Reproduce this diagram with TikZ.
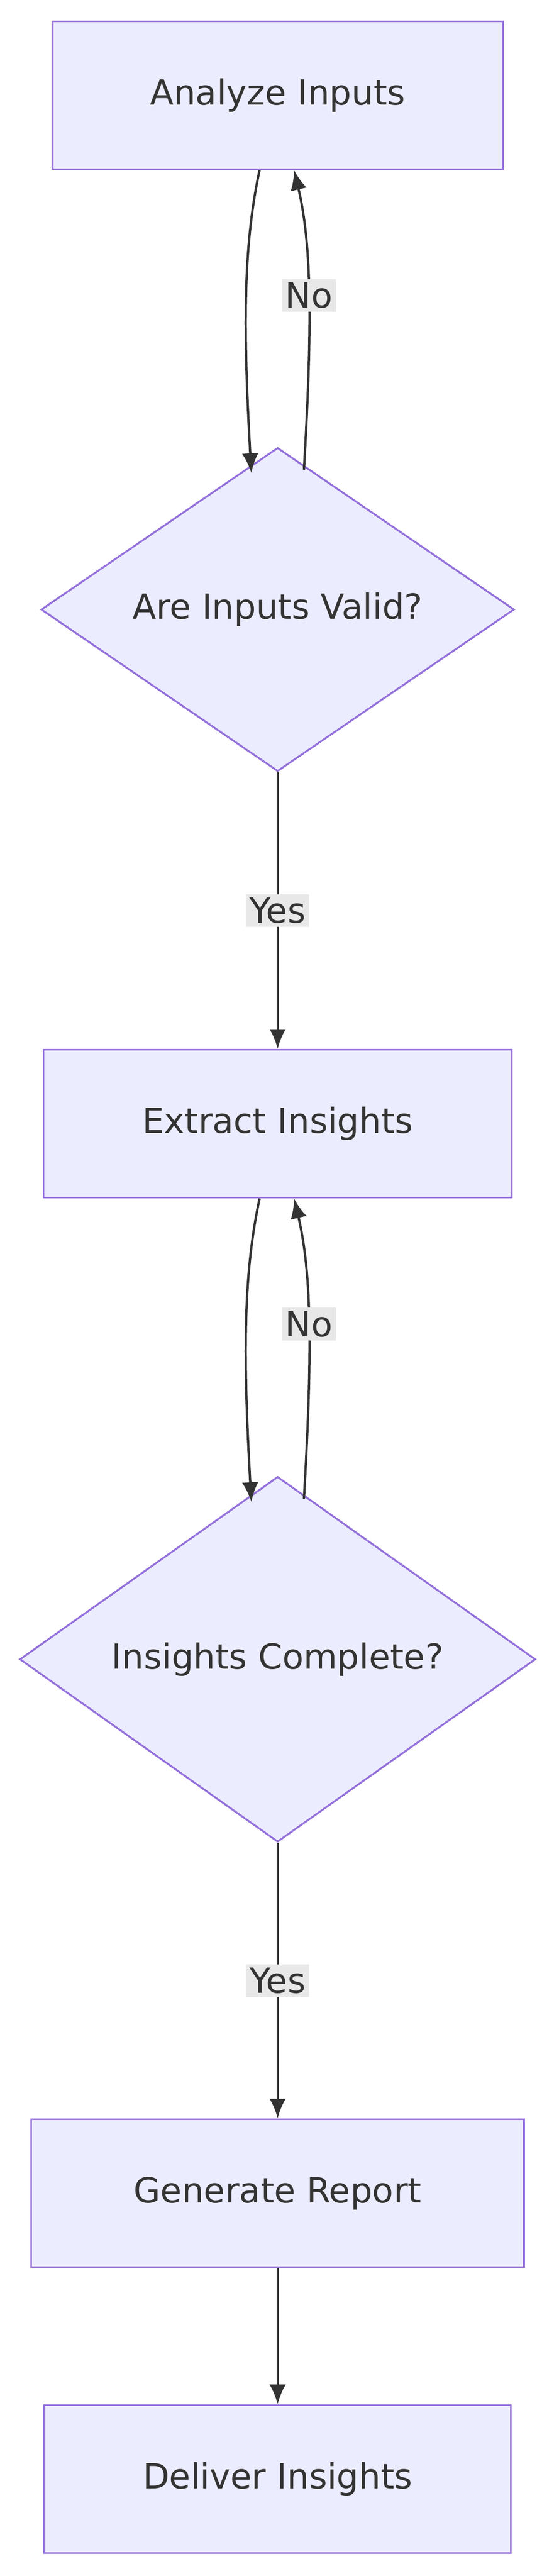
\documentclass[tikz,border=0pt]{standalone}
\usepackage{fontspec}
\setmainfont{DejaVu Sans}
\usetikzlibrary{shapes.geometric,arrows.meta,calc}
\definecolor{boxfill}{HTML}{ECECFF}
\definecolor{boxline}{HTML}{9370DB}
\definecolor{edgeline}{HTML}{333333}
\definecolor{lblfill}{HTML}{E8E8E8}
\begin{document}
\begin{tikzpicture}[x=0.05cm, y=-0.05cm, >={Latex[length=0.6cm,width=0.5cm]},
  every node/.style={font=\fontsize{30}{36}\selectfont, text=edgeline},
  stepbox/.style={draw=boxline, fill=boxfill, line width=1.6pt, rectangle, minimum height=4.5cm},
  choice/.style={draw=boxline, fill=boxfill, line width=1.6pt, diamond, aspect=1, inner sep=0pt},
  arr/.style={->, draw=edgeline, line width=2pt},
  lbl/.style={fill=lblfill, inner sep=3pt}]
\useasboundingbox (0,0) rectangle (340,1568);
% the nodes
\node[stepbox, minimum width=13.7cm] (analyze) at (169,58) {Analyze Inputs};
\node[choice, minimum width=14.4cm] (valid) at (169,371) {Are Inputs Valid?};
\node[stepbox, minimum width=14.25cm] (extract) at (169,684) {Extract Insights};
\node[choice, minimum width=15.7cm] (complete) at (169,1010) {Insights Complete?};
\node[stepbox, minimum width=15cm] (report) at (169,1335) {Generate Report};
\node[stepbox, minimum width=14.2cm] (deliver) at (169,1509) {Deliver Insights};
% points on the borders for the loops
\coordinate (a1) at ($(analyze.south)+(-11,0)$);
\coordinate (a2) at ($(analyze.south)+(10,0)$);
\coordinate (v1) at ($(valid.north)+(-16,16)$);
\coordinate (v2) at ($(valid.north)+(16,14)$);
\coordinate (e1) at ($(extract.south)+(-11,0)$);
\coordinate (e2) at ($(extract.south)+(10,0)$);
\coordinate (c1) at ($(complete.north)+(-16,16)$);
\coordinate (c2) at ($(complete.north)+(16,14)$);
% the connectors
\draw[arr] (a1) .. controls (148,150) and (148,200) .. (v1);
\draw[arr] (v2) .. controls (190,200) and (190,150) .. (a2) node[lbl, pos=0.5] {No};
\draw[arr] (valid.south) -- (extract.north) node[lbl, midway] {Yes};
\draw[arr] (e1) .. controls (148,776) and (148,826) .. (c1);
\draw[arr] (c2) .. controls (190,826) and (190,776) .. (e2) node[lbl, pos=0.5] {No};
\draw[arr] (complete.south) -- (report.north) node[lbl, midway] {Yes};
\draw[arr] (report) -- (deliver);
\end{tikzpicture}
\end{document}
